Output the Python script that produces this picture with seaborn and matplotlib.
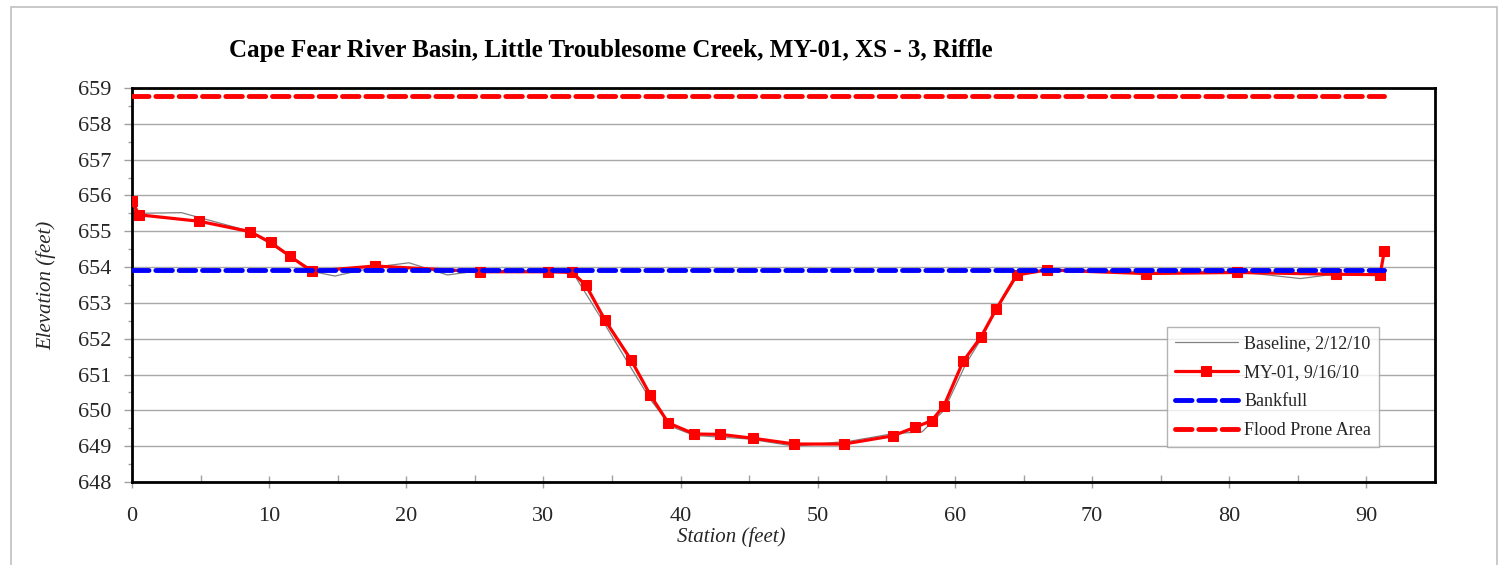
import matplotlib
matplotlib.use("Agg")
import matplotlib.pyplot as plt
import seaborn as sns
import pandas as pd
from matplotlib.patches import Rectangle
from matplotlib.ticker import MultipleLocator

# ---- data ----
baseline_x = [0.0, 0.3, 3.6, 8.6, 11.5, 13.5, 14.8, 17.7, 20.2, 23.0, 25.4, 30.3, 32.1,
              34.4, 36.2, 37.8, 39.3, 41.0, 45.0, 48.3, 52.5, 55.5, 57.6, 59.2, 60.8,
              62.0, 63.0, 64.6, 66.6, 74.0, 80.6, 85.2, 88.0, 91.0, 91.3]
baseline_y = [655.85, 655.50, 655.52, 655.00, 654.30, 653.85, 653.75, 654.00, 654.12, 653.78,
              653.90, 653.88, 653.87, 652.45, 651.30, 650.30, 649.55, 649.30, 649.20, 649.00,
              649.15, 649.35, 649.40, 650.00, 651.30, 652.05, 652.80, 653.78, 653.95, 653.85,
              653.87, 653.68, 653.82, 653.80, 654.40]

my01_x = [0.0, 0.5, 4.9, 8.6, 10.1, 11.5, 13.1, 17.7, 25.4, 30.3, 32.1, 33.1, 34.5, 36.4,
          37.8, 39.1, 41.0, 42.9, 45.3, 48.3, 51.9, 55.5, 57.1, 58.3, 59.2, 60.6, 61.9,
          63.0, 64.5, 66.7, 73.9, 80.6, 87.8, 91.0, 91.3]
my01_y = [655.85, 655.46, 655.28, 654.99, 654.69, 654.31, 653.88, 654.03, 653.87, 653.87,
          653.85, 653.49, 652.51, 651.40, 650.42, 649.65, 649.34, 649.33, 649.22, 649.06,
          649.06, 649.29, 649.53, 649.71, 650.13, 651.37, 652.05, 652.82, 653.78, 653.92,
          653.82, 653.85, 653.80, 653.79, 654.44]

bankfull_x = [0.0, 91.3]
bankfull_y = [653.92, 653.92]
flood_x = [0.0, 91.3]
flood_y = [658.78, 658.78]

series_labels = ["Baseline, 2/12/10", "MY-01, 9/16/10", "Bankfull", "Flood Prone Area"]
title = "Cape Fear River Basin, Little Troublesome Creek, MY-01, XS - 3, Riffle"
x_ticks = [0, 10, 20, 30, 40, 50, 60, 70, 80, 90]
y_ticks = list(range(648, 660))

# ---- plot ----
sns.set_theme(style="white")
plt.rcParams['font.family'] = ['Liberation Serif', 'DejaVu Serif']

fig = plt.figure(figsize=(15.06, 5.65), dpi=100)
ax = fig.add_axes([132/1506, 1-482/565, (1435-132)/1506, (482-88)/565])

fig.patches.append(Rectangle((11/1506, -0.1), (1497-11)/1506, 1.1 - 7/565,
                             transform=fig.transFigure, fill=False,
                             edgecolor="#c0c0c0", linewidth=1.2, zorder=0))

df_base = pd.DataFrame({"x": baseline_x, "y": baseline_y})
df_my = pd.DataFrame({"x": my01_x, "y": my01_y})
df_bf = pd.DataFrame({"x": bankfull_x, "y": bankfull_y})
df_fp = pd.DataFrame({"x": flood_x, "y": flood_y})

sns.lineplot(data=df_base, x="x", y="y", ax=ax, sort=False, estimator=None,
             color="#808080", linewidth=0.9, label=series_labels[0], zorder=3)
sns.lineplot(data=df_my, x="x", y="y", ax=ax, sort=False, estimator=None,
             color="#ff0000", linewidth=2.3, marker="s", markersize=7,
             markeredgecolor="#ff0000", label=series_labels[1], zorder=4)
sns.lineplot(data=df_bf, x="x", y="y", ax=ax, sort=False, estimator=None,
             color="#0000ff", linewidth=3.5, label=series_labels[2], zorder=5)
sns.lineplot(data=df_fp, x="x", y="y", ax=ax, sort=False, estimator=None,
             color="#ff0000", linewidth=3.5, label=series_labels[3], zorder=5)
for ln in ax.lines[2:4]:
    ln.set_dashes([3.4, 1.4])
    ln.set_dash_capstyle("round")

ax.set_xlim(0, 95)
ax.set_ylim(648, 659)
ax.set_xticks(x_ticks)
ax.set_yticks(y_ticks)
ax.xaxis.set_minor_locator(MultipleLocator(5))
ax.yaxis.set_minor_locator(MultipleLocator(0.5))
ax.grid(axis="y", which="major", color="#a8a8a8", linewidth=1.0)
ax.set_axisbelow(True)

for s in ax.spines.values():
    s.set_visible(True)
    s.set_color("black")
    s.set_linewidth(2.0)

ax.tick_params(axis="x", which="major", direction="inout", length=8, width=1,
               color="#a0a0a0", labelsize=16, pad=14, bottom=True)
ax.tick_params(axis="x", which="minor", direction="in", length=5, width=1,
               color="#a0a0a0", bottom=True)
ax.tick_params(axis="y", which="major", direction="out", length=6, width=1,
               color="#a0a0a0", labelsize=16, pad=9, left=True)
ax.tick_params(axis="y", which="minor", direction="out", length=3, width=1,
               color="#a0a0a0", left=True)

ax.set_xlabel("Station (feet)", fontsize=15, style="italic")
ax.set_ylabel("Elevation (feet)", fontsize=15, style="italic")
ax.xaxis.set_label_coords((731-132)/1303, -(527-482)/394)
ax.yaxis.set_label_coords(-(132-56)/1303, 0.5)

fig.text(611/1506, 1-50/565, title, ha="center", va="center",
         fontsize=18, fontweight="bold", color="black")

leg = ax.legend(loc="upper left", bbox_to_anchor=(0.794, 0.393), fontsize=13,
                frameon=True, fancybox=False, edgecolor="#a0a0a0",
                handlelength=3.5, labelspacing=0.66, borderpad=0.45,
                handletextpad=0.35, borderaxespad=0)
leg.get_frame().set_linewidth(1.0)

fig.savefig("out.png", dpi=100, facecolor="white")
